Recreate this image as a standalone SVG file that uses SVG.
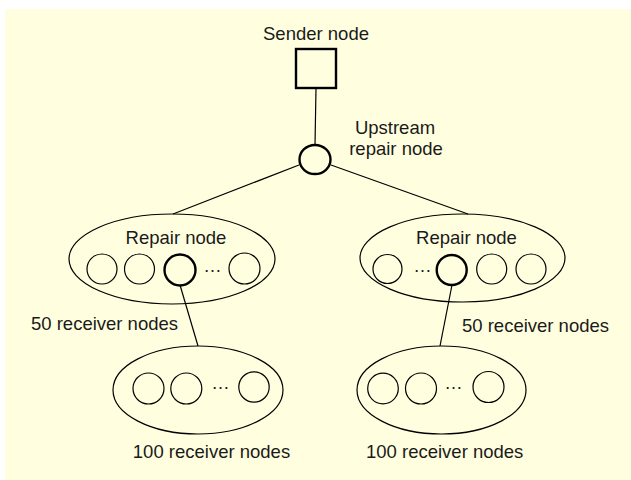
<svg xmlns="http://www.w3.org/2000/svg" width="631" height="480" viewBox="0 0 631 480">
<style>
text{font-family:"Liberation Sans",Arial,sans-serif;font-size:18.5px;fill:#1a1a1a;text-anchor:middle}
.thin{fill:none;stroke:#000;stroke-width:1.2}
.bold{fill:none;stroke:#000;stroke-width:2.4}
.conn line{stroke:#000;stroke-width:1.2}
</style>
<rect x="5" y="9" width="626" height="471" fill="#FFFFE0"/>
<g id="connectors" class="conn">
<line x1="316" y1="88" x2="315" y2="145"/>
<line x1="299" y1="165" x2="173" y2="214"/>
<line x1="331" y1="165" x2="468" y2="214"/>
<line x1="180" y1="285" x2="198" y2="346"/>
<line x1="452" y1="285" x2="440" y2="346"/>
</g>
<g id="sender">
<rect class="bold" x="296" y="49" width="40" height="39"/>
<text x="316" y="40">Sender node</text>
</g>
<g id="upstream">
<ellipse class="bold" cx="315" cy="159.5" rx="15.5" ry="14.5"/>
<text x="395" y="134">Upstream</text>
<text x="396" y="154.5">repair node</text>
</g>
<g id="repair-left">
<ellipse class="thin" cx="172" cy="259" rx="103" ry="45"/>
<text x="176" y="244">Repair node</text>
<circle class="thin" cx="102" cy="269" r="15"/>
<circle class="thin" cx="139.5" cy="269" r="15"/>
<circle class="bold" cx="180" cy="270" r="15.5"/>
<text x="212.5" y="272">…</text>
<circle class="thin" cx="244.5" cy="268.5" r="15.5"/>
<text x="104.5" y="330">50 receiver nodes</text>
</g>
<g id="repair-right">
<ellipse class="thin" cx="462.5" cy="258" rx="102.5" ry="44"/>
<text x="466.5" y="244">Repair node</text>
<circle class="thin" cx="387.5" cy="269" r="14.5"/>
<text x="422.5" y="272">…</text>
<circle class="bold" cx="451.7" cy="270" r="15"/>
<circle class="thin" cx="491.7" cy="269" r="15"/>
<circle class="thin" cx="531" cy="269" r="15"/>
<text x="535.5" y="332">50 receiver nodes</text>
</g>
<g id="receivers-left">
<ellipse class="thin" cx="198" cy="390" rx="85" ry="44"/>
<circle class="thin" cx="148.5" cy="388.5" r="15.5"/>
<circle class="thin" cx="186.3" cy="388.5" r="15.5"/>
<text x="220.5" y="389">…</text>
<circle class="thin" cx="254" cy="387" r="15.2"/>
<text x="211.5" y="458">100 receiver nodes</text>
</g>
<g id="receivers-right">
<ellipse class="thin" cx="441.5" cy="390" rx="84.5" ry="44"/>
<circle class="thin" cx="383" cy="388.5" r="15.3"/>
<circle class="thin" cx="421" cy="388.5" r="15.5"/>
<text x="453.5" y="389">…</text>
<circle class="thin" cx="488.5" cy="387" r="15.5"/>
<text x="444.7" y="458">100 receiver nodes</text>
</g>
</svg>
